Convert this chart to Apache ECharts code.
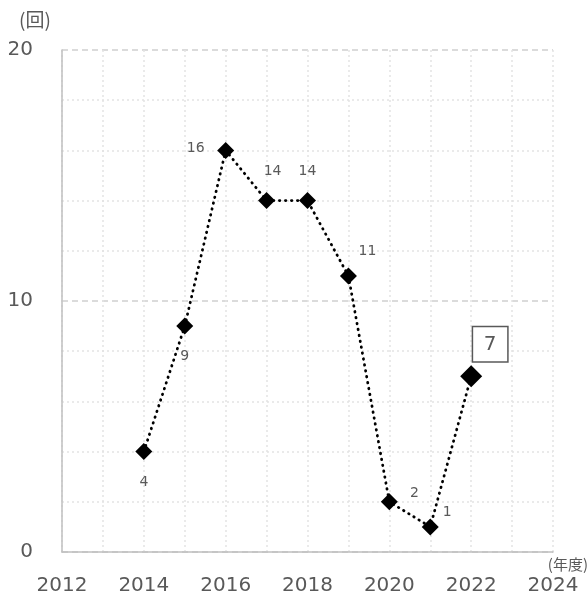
<!DOCTYPE html>
<html><head><meta charset="utf-8">
<script src="https://cdn.jsdelivr.net/npm/echarts@6/dist/echarts.min.js"></script>
<style>html,body{margin:0;padding:0;background:#fff}#c{width:588px;height:596px}</style>
</head><body><div id="c"></div>
<script>
var years = [2014, 2015, 2016, 2017, 2018, 2019, 2020, 2021, 2022];
var counts = [4, 9, 16, 14, 14, 11, 2, 1, 7];
var xTicks = [2012, 2014, 2016, 2018, 2020, 2022, 2024];
var yTicks = [0, 10, 20];

// label offsets (label centre relative to point centre), px
var labelOffsets = [[0,31],[0,30],[-30,-2],[6,-29],[0,-29],[19,-25],[25,-8],[17,-15],[19,-32]];

var chart = echarts.init(document.getElementById('c'));
var dataItems = years.map(function(y, i){
  var last = i === years.length - 1;
  var sz = last ? 22 : 17;
  var off = labelOffsets[i];
  var item = {
    value: [y, counts[i]],
    symbolSize: sz,
    label: {
      show: true,
      position: [sz/2 + off[0], sz/2 + off[1]],
      align: 'center',
      verticalAlign: 'middle',
      color: '#595959',
      fontSize: 14,
      fontFamily: 'DejaVu Sans'
    }
  };
  if (last) {
    item.label.fontSize = 20;
    item.label.borderColor = '#595959';
    item.label.borderWidth = 1.5;
    item.label.width = 34;
    item.label.height = 34;
    item.label.lineHeight = 34;
    item.label.padding = 0;
    item.label.backgroundColor = '#fff';
  }
  return item;
});

chart.setOption({
  animation: false,
  grid: {left: 62, right: 35, top: 50, bottom: 44},
  xAxis: {
    type: 'value', min: xTicks[0], max: xTicks[xTicks.length-1], interval: 2,
    axisLine: {show: true, lineStyle: {color: '#bfbfbf', width: 1.5}},
    axisTick: {show: false},
    axisLabel: {color: '#595959', fontSize: 20, fontFamily: 'DejaVu Sans', margin: 24, formatter: function(v){return String(v);}},
    splitLine: {show: true, lineStyle: {color: '#e3e3e3', type: [2,3], width: 1.5}},
    minorTick: {show: false, splitNumber: 2},
    minorSplitLine: {show: true, lineStyle: {color: '#e3e3e3', type: [2,3], width: 1.5}}
  },
  yAxis: {
    type: 'value', min: yTicks[0], max: yTicks[yTicks.length-1], interval: 10,
    axisLine: {show: true, lineStyle: {color: '#bfbfbf', width: 1.5}},
    axisTick: {show: false},
    axisLabel: {color: '#595959', fontSize: 20, fontFamily: 'DejaVu Sans', margin: 29},
    splitLine: {show: true, lineStyle: {color: '#cfcfcf', type: [6,4], width: 1.5}},
    minorTick: {show: false, splitNumber: 5},
    minorSplitLine: {show: true, lineStyle: {color: '#e3e3e3', type: [2,3], width: 1.5}}
  },
  graphic: [
    {type: 'text', x: 35, y: 20, style: {text: '(回)', fill: '#595959', font: '19px "Noto Sans CJK JP"', align: 'center', verticalAlign: 'middle'}},
    {type: 'text', x: 588, y: 564, style: {text: '(年度)', fill: '#595959', font: '15px "Noto Sans CJK JP"', align: 'right', verticalAlign: 'middle'}}
  ],
  series: [{
    type: 'line',
    data: dataItems,
    symbol: 'diamond',
    itemStyle: {color: '#000'},
    lineStyle: {color: '#000', width: 2.8, type: [0.5, 5.5], cap: 'round'},
    z: 3
  }]
});
</script></body></html>
